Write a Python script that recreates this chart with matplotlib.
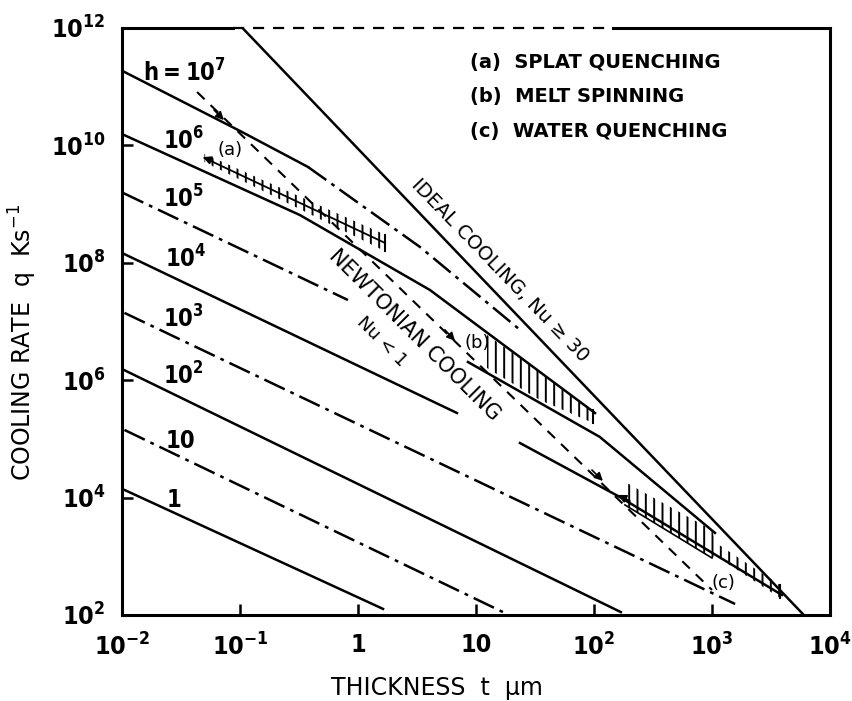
import matplotlib
matplotlib.use('Agg')
import matplotlib.pyplot as plt
from matplotlib import font_manager

plt.rcParams['font.family'] = ['DejaVu Sans']
plt.rcParams['hatch.linewidth'] = 1.4

# narrow face for the numbers, whichever is installed
fonts = font_manager.fontManager.ttflist
if any(f.name == 'Liberation Sans Narrow' for f in fonts):
    NARROW = dict(family=['Liberation Sans Narrow', 'DejaVu Sans'], stretch='normal')
elif any(f.name == 'DejaVu Sans' and f.stretch == 'condensed' for f in fonts):
    NARROW = dict(family=['DejaVu Sans'], stretch='condensed')
else:
    NARROW = dict(family=['DejaVu Sans'], stretch='normal')

# thickness t (um) / cooling rate q (K/s)
ideal_t = [0.105, 6000]
ideal_q = [1e12, 1e2]

h1_t, h1_q = [0.0105, 1.63], [1.35e4, 127]
h10_t, h10_q = [0.0105, 17.6], [1.42e5, 108]
h100_t, h100_q = [0.01, 169], [1.55e6, 112]
h1e3_t, h1e3_q = [0.0105, 1570], [1.40e7, 154]
h1e4_t, h1e4_q = [0.01, 6.9], [1.47e8, 2.76e5]
h1e4b_t, h1e4b_q = [23.6, 166, 3920], [8.5e4, 1.02e4, 219]
h1e5_t, h1e5_q = [0.0102, 0.822], [1.55e9, 2.32e7]
h1e5b_t, h1e5b_q = [8.55, 112, 1060], [2.04e6, 1.08e5, 2.5e3]
h1e6_t = [0.01, 0.322, 4.07, 13.2, 102]
h1e6_q = [1.56e10, 6.5e8, 3.44e7, 5.9e6, 2.76e5]
h1e7_t, h1e7_q = [0.0105, 0.104, 0.377], [1.78e11, 1.69e10, 4.29e9]
h1e7b_t, h1e7b_q = [0.377, 3.35, 23.6], [4.29e9, 1.86e8, 7.2e6]

# process path joining the three techniques
path_t = [0.0433, 1000]
path_q = [8.1e10, 267]

# hatched ranges: (a) splat quenching, (b) melt spinning, (c) water quenching
splat_t = [0.05, 1.7]
splat_mid = [6.1e9, 2.17e8]
splat_lo, splat_hi = [5.19e9, 1.57e8], [7.17e9, 3.0e8]
melt_t = [12.4, 34.8, 98]
melt_lo, melt_hi = [1.61e6, 4.6e5, 1.87e5], [5.89e6, 1.38e6, 3.1e5]
water_t = [183, 1000, 1081, 3767]
water_lo, water_hi = [7.5e3, 935, 1.01e3, 195], [1.85e4, 2.8e3, 1.69e3, 324]

h_labels = ['$\\mathdefault{h=10^{7}}$', '$\\mathdefault{10^{6}}$', '$\\mathdefault{10^{5}}$',
            '$\\mathdefault{10^{4}}$', '$\\mathdefault{10^{3}}$', '$\\mathdefault{10^{2}}$', '10', '1']
label_t = [0.0151, 0.0222, 0.0222, 0.0232, 0.0222, 0.0222, 0.0232, 0.0241]
label_q = [1.2e11, 8.36e9, 8.57e8, 8.15e7, 7.75e6, 8.28e5, 7.0e4, 6.9e3]

xticks = [1e-2, 1e-1, 1, 10, 1e2, 1e3, 1e4]
xticklabels = ['$\\mathdefault{10^{-2}}$', '$\\mathdefault{10^{-1}}$', '1', '10',
               '$\\mathdefault{10^{2}}$', '$\\mathdefault{10^{3}}$', '$\\mathdefault{10^{4}}$']
yticks = [1e2, 1e4, 1e6, 1e8, 1e10, 1e12]
yticklabels = ['$\\mathdefault{10^{%d}}$' % e for e in (2, 4, 6, 8, 10, 12)]

legend_lines = ['(a)  SPLAT QUENCHING', '(b)  MELT SPINNING', '(c)  WATER QUENCHING']

fig = plt.figure(figsize=(8.53, 7.01), dpi=100)
ax = fig.add_axes([0.1430, 0.1227, 0.8300, 0.8374])
ax.set_xscale('log')
ax.set_yscale('log')
ax.set_xlim(1e-2, 1e4)
ax.set_ylim(1e2, 1e12)

LW = 1.8
DASHDOT = (0, (9, 2.5, 1.5, 2.5))
k = 'black'

ax.plot(ideal_t, ideal_q, color=k, lw=LW)
ax.plot(h1_t, h1_q, color=k, lw=LW)
ax.plot(h10_t, h10_q, color=k, lw=LW, ls=DASHDOT)
ax.plot(h100_t, h100_q, color=k, lw=LW)
ax.plot(h1e3_t, h1e3_q, color=k, lw=LW, ls=DASHDOT)
ax.plot(h1e4_t, h1e4_q, color=k, lw=LW)
ax.plot(h1e4b_t, h1e4b_q, color=k, lw=LW)
ax.plot(h1e5_t, h1e5_q, color=k, lw=LW, ls=DASHDOT)
ax.plot(h1e5b_t, h1e5b_q, color=k, lw=LW)
ax.plot(h1e6_t, h1e6_q, color=k, lw=LW)
ax.plot(h1e7_t, h1e7_q, color=k, lw=LW)
ax.plot(h1e7b_t, h1e7b_q, color=k, lw=LW, ls=DASHDOT)
ax.plot(path_t, path_q, color=k, lw=1.5, ls=(0, (5, 4)))

# hatched bands
ax.fill_between(splat_t, splat_lo, splat_hi, facecolor='none', edgecolor=k, hatch='||', lw=0)
ax.plot(splat_t, splat_mid, color=k, lw=1.3)
ax.plot([splat_t[-1], splat_t[-1]], [splat_lo[-1], splat_hi[-1]], color=k, lw=1.5)
ax.fill_between(melt_t, melt_lo, melt_hi, facecolor='none', edgecolor=k, hatch='||', lw=0)
ax.plot([melt_t[-1], melt_t[-1]], [melt_lo[-1], melt_hi[-1]], color=k, lw=1.5)
ax.fill_between(water_t, water_lo, water_hi, facecolor='none', edgecolor=k, hatch='||', lw=0)
ax.plot(water_t[:2], water_lo[:2], color=k, lw=1.2)
ax.plot([water_t[-1], water_t[-1]], [water_lo[-1], water_hi[-1]], color=k, lw=1.5)

# arrowheads (tail, head)
arrows = [((0.0603, 4.0e10), (0.0731, 2.7e10)),
          ((5.46, 7.2e6), (6.64, 4.66e6)),
          ((96.1, 2.95e4), (119, 1.92e4)),
          ((0.059, 5.4e9), (0.0485, 6.3e9)),
          ((202, 8.75e3), (160, 1.11e4))]
for tail, head in arrows:
    ax.annotate('', xy=head, xytext=tail,
                arrowprops=dict(arrowstyle='-|>', color=k, lw=1.2, mutation_scale=12,
                                shrinkA=0, shrinkB=0))

for lab, t, q in zip(h_labels, label_t, label_q):
    ax.text(t, q, lab, fontsize=17, weight='bold', va='baseline', ha='left',
            family=NARROW['family'], fontstretch=NARROW['stretch'])

ax.text(16.0, 7.5e7, 'IDEAL COOLING, Nu \u2265 30', rotation=-46, rotation_mode='anchor',
        ha='center', va='center', fontsize=14)
ax.text(3.04, 5.9e6, 'NEWTONIAN COOLING', rotation=-45, rotation_mode='anchor',
        ha='center', va='center', fontsize=15)
ax.text(1.6, 4.5e6, 'Nu < 1', rotation=-45, rotation_mode='anchor',
        ha='center', va='center', fontsize=13)
ax.text(0.0822, 8.4e9, '(a)', ha='center', va='center', fontsize=13)
ax.text(10.2, 4.3e6, '(b)', ha='center', va='center', fontsize=13)
ax.text(1240, 351, '(c)', ha='center', va='center', fontsize=13)

for i, s in enumerate(legend_lines):
    ax.text(0.4915, 0.942 - 0.059 * i, s, transform=ax.transAxes, ha='left', va='center',
            fontsize=14, weight='bold')

# frame: top edge partly broken
for side in ('left', 'bottom', 'right'):
    ax.spines[side].set_linewidth(2.2)
ax.spines['top'].set_visible(False)
ax.plot([0, 0.157], [1, 1], transform=ax.transAxes, clip_on=False, color=k, lw=2.2)
ax.plot([0.157, 0.693], [1, 1], transform=ax.transAxes, clip_on=False, color=k, lw=1.6,
        ls=(0, (5, 4)))
ax.plot([0.693, 1], [1, 1], transform=ax.transAxes, clip_on=False, color=k, lw=2.2)

ax.set_xticks(xticks)
ax.set_xticklabels(xticklabels)
ax.set_yticks(yticks)
ax.set_yticklabels(yticklabels)
ax.minorticks_off()
ax.tick_params(axis='x', direction='in', length=8, width=1.8, pad=13, labelsize=18)
ax.tick_params(axis='y', direction='in', length=8, width=1.8, pad=12, labelsize=18)
for lab in ax.get_xticklabels() + ax.get_yticklabels():
    lab.set_family(NARROW['family'])
    lab.set_fontstretch(NARROW['stretch'])
    lab.set_weight('bold')

fig.text(437 / 853, 1 - 688 / 701, 'THICKNESS  t  \u00b5m', ha='center', va='center', fontsize=17)
fig.text(23 / 853, 1 - 342 / 701, 'COOLING RATE  q  Ks$^{-1}$', ha='center', va='center',
         rotation=90, fontsize=17)

fig.savefig('out.png', dpi=100)
